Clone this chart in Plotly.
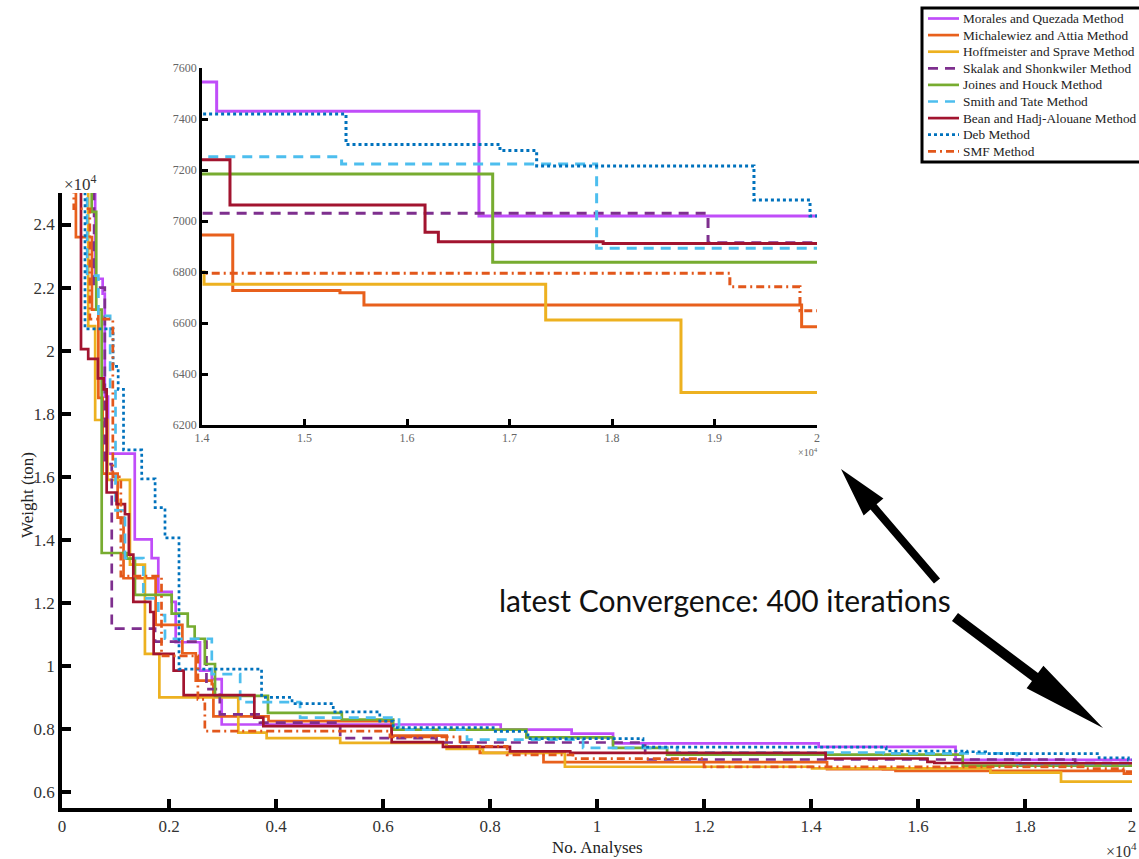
import plotly.graph_objects as go
import math

W, H = 1139, 859

# ---------------- data (No. Analyses, Weight in ton) ----------------
names = ["Morales and Quezada Method", "Michalewiez and Attia Method", "Hoffmeister and Sprave Method",
         "Skalak and Shonkwiler Method", "Joines and Houck Method", "Smith and Tate Method",
         "Bean and Hadj-Alouane Method", "Deb Method", "SMF Method"]

morales_x = [0, 620, 760, 800, 860, 1360, 1676, 1800, 2050, 2125, 2580, 2800, 2985, 8200, 9526, 10300, 14143, 16702, 20000]
morales_y = [30000, 22280, 21810, 18540, 16730, 14010, 13420, 12350, 12030, 10750, 9850, 9580, 8140, 7980, 7850, 7545, 7430, 7020, 7020]

michal_x = [0, 260, 560, 680, 760, 1040, 1150, 1750, 2250, 2500, 2800, 2830, 3860, 6160, 7190, 7810, 9000, 14300, 15346, 15580, 19850, 20000]
michal_y = [30000, 23600, 21300, 18500, 16100, 14700, 12780, 11300, 10400, 9530, 9420, 8400, 8250, 7790, 7450, 7240, 6945, 6727, 6719, 6671, 6585, 6585]

hoff_x = [0, 490, 620, 850, 1270, 1550, 1820, 3295, 3825, 5200, 7190, 7870, 9400, 14020, 17353, 18673, 20000]
hoff_y = [30000, 20780, 17800, 15900, 13210, 10380, 9000, 7880, 7710, 7560, 7370, 7240, 6800, 6752, 6612, 6327, 6327]

skalak_x = [0, 600, 800, 930, 1740, 2700, 2950, 3700, 5200, 7000, 10900, 18937, 20000]
skalak_y = [30000, 22000, 16400, 11180, 10770, 9260, 8460, 8200, 7710, 7570, 7030, 6915, 6915]

joines_x = [0, 555, 640, 742, 1209, 1364, 2050, 2350, 2480, 2670, 2860, 3850, 5230, 6190, 8680, 10300, 11310, 16836, 20000]
joines_y = [30000, 24400, 21300, 13580, 13400, 12250, 11660, 11250, 10860, 10060, 9050, 8510, 8300, 7980, 7730, 7400, 7184, 6838, 6838]

smith_x = [0, 470, 680, 900, 1000, 1177, 1520, 1800, 1925, 2800, 3330, 4450, 6300, 7570, 9740, 11500, 15362, 17850, 20000]
smith_y = [30000, 22380, 21100, 18770, 14930, 13420, 12140, 11610, 10860, 9740, 8850, 8360, 7980, 7660, 7400, 7252, 7224, 6893, 6893]

bean_x = [0, 355, 490, 670, 780, 835, 1020, 1177, 1250, 1333, 1650, 1713, 2087, 2274, 3595, 3763, 6162, 7121, 8373, 9500, 14273, 16176, 16306, 17914, 20000]
bean_y = [30000, 20050, 19740, 19120, 18770, 15500, 15130, 14810, 13530, 12030, 11710, 10380, 9850, 9070, 8360, 8090, 7580, 7430, 7290, 7240, 7063, 6956, 6919, 6912, 6912]

deb_x = [0, 430, 955, 1050, 1150, 1490, 1740, 1925, 2187, 3730, 4300, 5070, 5940, 6190, 8060, 8710, 10860, 15405, 16907, 17265, 19385, 19932, 20000]
deb_y = [30000, 20690, 19500, 18770, 16850, 15930, 15020, 14060, 9900, 9000, 8800, 8540, 8250, 8040, 7920, 7690, 7420, 7300, 7276, 7216, 7082, 7020, 7020]

smf_x = [0, 220, 520, 950, 1100, 1860, 2540, 2670, 6130, 7440, 8320, 9550, 12000, 19150, 19834, 20000]
smf_y = [30000, 24500, 21000, 16000, 12850, 10320, 8940, 7930, 7750, 7450, 7180, 7060, 6795, 6742, 6648, 6648]

main_xticks = [0, 2000, 4000, 6000, 8000, 10000, 12000, 14000, 16000, 18000, 20000]
main_xtext = ["0", "0.2", "0.4", "0.6", "0.8", "1", "1.2", "1.4", "1.6", "1.8", "2"]
main_yticks = [6000, 8000, 10000, 12000, 14000, 16000, 18000, 20000, 22000, 24000]
main_ytext = ["0.6", "0.8", "1", "1.2", "1.4", "1.6", "1.8", "2", "2.2", "2.4"]
inset_xticks = [14000, 15000, 16000, 17000, 18000, 19000, 20000]
inset_xtext = ["1.4", "1.5", "1.6", "1.7", "1.8", "1.9", "2"]
inset_yticks = [6200, 6400, 6600, 6800, 7000, 7200, 7400, 7600]
inset_ytext = ["6200", "6400", "6600", "6800", "7000", "7200", "7400", "7600"]

series = [
    (morales_x, morales_y, "#C04DF9", "solid"),
    (michal_x, michal_y, "#E8601C", "solid"),
    (hoff_x, hoff_y, "#EDB120", "solid"),
    (skalak_x, skalak_y, "#7E2F8E", "10px,7px"),
    (joines_x, joines_y, "#77AC30", "solid"),
    (smith_x, smith_y, "#4DBEEE", "10px,7px"),
    (bean_x, bean_y, "#A2142F", "solid"),
    (deb_x, deb_y, "#0072BD", "dot"),
    (smf_x, smf_y, "#E2571B", "8px,4px,2px,4px"),
]

fig = go.Figure()
for (xs, ys, col, dash), nm in zip(series, names):
    fig.add_trace(go.Scatter(x=xs, y=ys, mode="lines", name=nm, line_shape="hv",
                             line=dict(color=col, width=2.7, dash=dash), showlegend=False))
for (xs, ys, col, dash), nm in zip(series, names):
    fig.add_trace(go.Scatter(x=xs, y=ys, mode="lines", name=nm, line_shape="hv",
                             line=dict(color=col, width=3, dash=dash), showlegend=False,
                             xaxis="x2", yaxis="y2"))

def fx(p):
    return p / W

def fy(p):
    return 1 - p / H

serif = "Liberation Serif"

fig.update_layout(
    width=W, height=H, margin=dict(l=0, r=0, t=0, b=0, autoexpand=False),
    paper_bgcolor="white", plot_bgcolor="white", showlegend=False,
    xaxis=dict(domain=[fx(62), fx(1132)], range=[0, 20000], tickvals=main_xticks, ticktext=main_xtext,
               ticks="inside", ticklen=9, tickwidth=3.5, tickcolor="black", showline=True, linewidth=3.5,
               linecolor="black", showgrid=False, zeroline=False, anchor="y",
               tickfont=dict(family=serif, size=17, color="#333")),
    yaxis=dict(domain=[fy(807.75), fy(193)], range=[5500, 25000], tickvals=main_yticks, ticktext=main_ytext,
               ticks="inside", ticklen=9, tickwidth=3.5, tickcolor="black", showline=True, linewidth=3.5,
               linecolor="black", showgrid=False, zeroline=False, anchor="x",
               tickfont=dict(family=serif, size=17, color="#333")),
    xaxis2=dict(domain=[fx(202), fx(817)], range=[14000, 20000], tickvals=inset_xticks, ticktext=inset_xtext,
                ticks="inside", ticklen=6, tickwidth=2.5, tickcolor="black", showline=True, linewidth=2.5,
                linecolor="black", showgrid=False, zeroline=False, anchor="y2",
                tickfont=dict(family=serif, size=12, color="#666")),
    yaxis2=dict(domain=[fy(425), fy(68)], range=[6200, 7600], tickvals=inset_yticks, ticktext=inset_ytext,
                ticks="inside", ticklen=6, tickwidth=2.5, tickcolor="black", showline=True, linewidth=2.5,
                linecolor="black", showgrid=False, zeroline=False, anchor="x2",
                tickfont=dict(family=serif, size=12, color="#666")),
)

ann = [
    dict(text="×10<sup>4</sup>", x=fx(62), y=fy(183), xanchor="left", yanchor="middle",
         font=dict(family=serif, size=17, color="#333")),
    dict(text="×10<sup>4</sup>", x=fx(1139), y=fy(850), xanchor="right", yanchor="middle",
         font=dict(family=serif, size=16, color="#333")),
    dict(text="×10<sup>4</sup>", x=fx(820), y=fy(452), xanchor="right", yanchor="middle",
         font=dict(family=serif, size=10, color="#666")),
    dict(text="Weight (ton)", x=fx(27), y=fy(495), textangle=-90, xanchor="center", yanchor="middle",
         font=dict(family=serif, size=17, color="#222")),
    dict(text="No. Analyses", x=fx(597), y=fy(847), xanchor="center", yanchor="middle",
         font=dict(family=serif, size=17, color="#222")),
    dict(text="latest Convergence: 400 iterations", x=fx(725), y=fy(600), xanchor="center", yanchor="middle",
         font=dict(family="Lato", size=30, color="#111")),
]

shapes = []

# legend (drawn manually for exact spacing)
shapes.append(dict(type="rect", xref="paper", yref="paper", x0=fx(922), x1=fx(1150), y0=fy(162), y1=fy(8),
                   fillcolor="white", line=dict(color="black", width=3), layer="above"))
for i, ((xs, ys, col, dash), nm) in enumerate(zip(series, names)):
    yc = 18.5 + i * 16.6
    shapes.append(dict(type="line", xref="paper", yref="paper", x0=fx(928), x1=fx(959), y0=fy(yc), y1=fy(yc),
                       line=dict(color=col, width=2.7, dash=dash), layer="above"))
    ann.append(dict(text=nm, x=fx(961), y=fy(yc), xanchor="left", yanchor="middle",
                    font=dict(family=serif, size=13.3, color="#222")))

for a in ann:
    a.update(xref="paper", yref="paper", showarrow=False)

def arrow_path(tail, tip, w, L, Wd):
    x0, y0 = tail
    x1, y1 = tip
    d = math.hypot(x1 - x0, y1 - y0)
    ux, uy = (x1 - x0) / d, (y1 - y0) / d
    nx, ny = -uy, ux
    bx, by = x1 - ux * L, y1 - uy * L
    pts = [(x0 + nx * w / 2, y0 + ny * w / 2), (bx + nx * w / 2, by + ny * w / 2),
           (bx + nx * Wd / 2, by + ny * Wd / 2), (x1, y1),
           (bx - nx * Wd / 2, by - ny * Wd / 2), (bx - nx * w / 2, by - ny * w / 2),
           (x0 - nx * w / 2, y0 - ny * w / 2)]
    return "M " + " L ".join(f"{fx(px):.5f},{fy(py):.5f}" for px, py in pts) + " Z"

shapes += [
    dict(type="path", xref="paper", yref="paper", path=arrow_path((937, 581), (841, 469), 8, 50, 26),
         fillcolor="black", line=dict(width=0)),
    dict(type="path", xref="paper", yref="paper", path=arrow_path((955, 617), (1103, 728), 10, 85, 28),
         fillcolor="black", line=dict(width=0)),
]
fig.update_layout(shapes=shapes, annotations=ann)

fig.write_html("out.html", config={"displayModeBar": False},
               post_script="document.body.style.margin='0';document.body.style.padding='0';"
                           "document.body.style.overflow='hidden';")
